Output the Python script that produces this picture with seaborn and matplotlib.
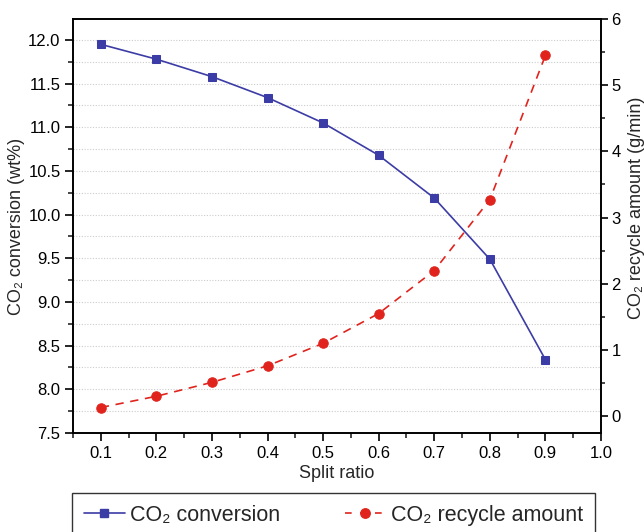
import numpy as np
import pandas as pd
import seaborn as sns
import matplotlib
matplotlib.use("Agg")
import matplotlib.pyplot as plt
from matplotlib.ticker import MultipleLocator
from matplotlib.lines import Line2D

split_ratio = [0.1, 0.2, 0.3, 0.4, 0.5, 0.6, 0.7, 0.8, 0.9]
co2_conversion = [11.95, 11.78, 11.58, 11.34, 11.05, 10.68, 10.19, 9.49, 8.34]
co2_recycle = [0.13, 0.30, 0.51, 0.76, 1.10, 1.55, 2.20, 3.27, 5.45]
x_tick_labels = ["0.1", "0.2", "0.3", "0.4", "0.5", "0.6", "0.7", "0.8", "0.9", "1.0"]

sns.set_theme(style="white")
plt.rcParams['font.family'] = ['Liberation Sans', 'DejaVu Sans']
plt.rcParams['axes.unicode_minus'] = False

blue = "#3c3ca6"
red = "#e0241d"

df = pd.DataFrame({"x": split_ratio, "conv": co2_conversion, "rec": co2_recycle})

fig = plt.figure(figsize=(6.44, 5.32), dpi=100)
ax = fig.add_axes([73/644, 1-433/532, (601-73)/644, (433-19)/532])
ax2 = ax.twinx()

sns.lineplot(data=df, x="x", y="conv", ax=ax, color=blue, marker="s", markersize=6,
             markeredgecolor=blue, linewidth=1.2, legend=False)
sns.lineplot(data=df, x="x", y="rec", ax=ax2, color=red, marker="o", markersize=6.8,
             markeredgecolor=red, linewidth=1.2, legend=False)
ax2.lines[0].set_linestyle((0, (5, 4)))

ax.set_xlim(0.05, 1.0)
ax.set_ylim(7.5, 12.24)
ax2.set_ylim(-0.255, 6.0)

ax.xaxis.set_minor_locator(MultipleLocator(0.05))
ax.yaxis.set_major_locator(MultipleLocator(0.5))
ax.yaxis.set_minor_locator(MultipleLocator(0.25))
ax2.yaxis.set_major_locator(MultipleLocator(1))
ax2.yaxis.set_minor_locator(MultipleLocator(0.5))

xt = [float(t) for t in x_tick_labels]
ax.set_xticks(xt)
ax.set_xticklabels(x_tick_labels)

ax.grid(False)
ax2.grid(False)
for yv in np.arange(7.75, 12.01, 0.25):
    ax.axhline(yv, color="#cccccc", linestyle=(0, (1, 1.5)), linewidth=0.8, zorder=0)

for a in (ax, ax2):
    for s in a.spines.values():
        s.set_color("black")
        s.set_linewidth(1.2)

ax.tick_params(axis="both", which="major", direction="out", length=6, width=1.2,
               labelsize=12, colors="black", bottom=True, left=True, pad=3)
ax.tick_params(axis="both", which="minor", direction="out", length=3.5, width=1.2,
               bottom=True, left=True)
ax2.tick_params(axis="y", which="major", direction="out", length=5, width=1.2,
                labelsize=12, colors="black", right=True, pad=2.5)
ax2.tick_params(axis="y", which="minor", direction="out", length=3, width=1.2, right=True)

ax.set_xlabel("Split ratio", fontsize=13, labelpad=3)
ax.set_ylabel("CO₂ conversion (wt%)", fontsize=13, labelpad=2)
ax2.set_ylabel("CO₂ recycle amount (g/min)", fontsize=13)
ax2.yaxis.set_label_coords(1.051, 0.545)

handles = [
    Line2D([], [], color=blue, marker="s", markersize=6, linewidth=1.2),
    Line2D([], [], color=red, marker="o", markersize=6.8, linewidth=1.2, linestyle=(0, (4, 5))),
]
leg = fig.legend(handles, ["CO₂ conversion", "CO₂ recycle amount"], ncol=2,
                 loc="upper left", bbox_to_anchor=(72/644, 1-493/532), borderaxespad=0,
                 frameon=True, fancybox=False, fontsize=15.5, handlelength=1.9,
                 handletextpad=0.25, columnspacing=3.0, borderpad=0.55, edgecolor="black")
leg.get_frame().set_linewidth(1.0)

fig.savefig("out.png", dpi=100)
